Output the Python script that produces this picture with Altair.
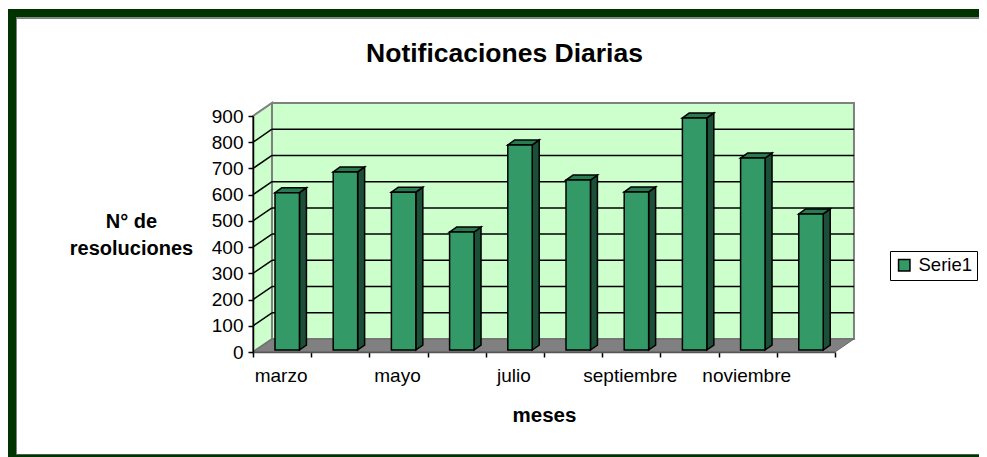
import altair as alt
import pandas as pd

months = ["marzo", "abril", "mayo", "junio", "julio", "agosto",
          "septiembre", "octubre", "noviembre", "diciembre"]
values = [600, 679, 602, 450, 782, 648, 603, 885, 732, 519]
y_ticks = [0, 100, 200, 300, 400, 500, 600, 700, 800, 900]
x_labels = ["marzo", "mayo", "julio", "septiembre", "noviembre"]
series_name = "Serie1"

# 3-D depth, in data units of the two scales
WALL_DX, WALL_DY = 0.326, 49.6
BAR_DX, BAR_DY = 0.12, 19.0
BAR_X, BAR_W, BAR_BASE = 0.378, 0.42, 7.6

W, H = 582, 236
LEFT, TOP = 245, 108
FONT = "Liberation Sans"
GREY = "#808080"
WALL = "#CCFFCC"
BAR = "#339966"
BORDER = "#003300"

X = alt.Scale(domain=[0, len(months)], nice=False, zero=False)
Y = alt.Scale(domain=[0, 900], nice=False, zero=False)
X_AX = alt.Axis(values=list(range(len(months) + 1)), labels=False, tickSize=5, tickColor="black",
                tickWidth=1.5, domainColor="#555555", domainWidth=1.5, grid=False, title="meses",
                titleFont=FONT, titleFontSize=20.5, titleFontWeight="bold", titleColor="black",
                titleX=291, titleY=63, titleBaseline="middle", zindex=1)
Y_AX = alt.Axis(values=y_ticks, title=["N° de", "resoluciones"], titleFont=FONT, titleFontSize=20,
                titleFontWeight="bold", titleColor="black", titleAngle=0, titleAlign="center",
                titleBaseline="middle", titleX=-122, titleY=105, titleLineHeight=27,
                labelFont=FONT, labelFontSize=19, labelColor="black", labelPadding=5,
                tickSize=5, tickColor="black", tickWidth=1.5, domainColor="black", domainWidth=1.5,
                grid=False, zindex=1)


def xq(f):
    return alt.X(f, scale=X, axis=X_AX)


def yq(f):
    return alt.Y(f, scale=Y, axis=Y_AX)


front, side, top = [], [], []
for i, (m, v) in enumerate(zip(months, values)):
    x0 = i + BAR_X
    x1 = x0 + BAR_W
    t = v + BAR_BASE
    front.append(dict(month=m, x0=x0, x1=x1, b=BAR_BASE, t=t, s=series_name))
    side += [dict(month=m, x=x1, b=BAR_BASE, t=t),
             dict(month=m, x=x1 + BAR_DX, b=BAR_BASE + BAR_DY, t=t + BAR_DY)]
    top += [dict(month=m, y=t, a=x0, c=x1),
            dict(month=m, y=t + BAR_DY, a=x0 + BAR_DX, c=x1 + BAR_DX)]
front, side, top = map(pd.DataFrame, (front, side, top))

back = alt.Chart(pd.DataFrame({"x": [WALL_DX, 10 + WALL_DX], "b": [WALL_DY] * 2, "t": [900 + WALL_DY] * 2})).mark_area(
    color=WALL, stroke=GREY, strokeWidth=2
).encode(x=xq("x:Q"), y=alt.Y("b:Q", scale=Y, axis=Y_AX, stack=None), y2="t:Q")

left = alt.Chart(pd.DataFrame({"x": [0, WALL_DX], "b": [0, WALL_DY], "t": [900, 900 + WALL_DY]})).mark_area(
    color=WALL, stroke=GREY, strokeWidth=2
).encode(x=xq("x:Q"), y=alt.Y("b:Q", scale=Y, axis=Y_AX, stack=None), y2="t:Q")

floor = alt.Chart(pd.DataFrame({"y": [0, WALL_DY], "a": [0, WALL_DX], "c": [10, 10 + WALL_DX]})).mark_area(
    orient="horizontal", color=GREY, stroke="#6a6a6a", strokeWidth=1
).encode(y=yq("y:Q"), x=alt.X("a:Q", scale=X, axis=X_AX, stack=None), x2="c:Q")

gdf = pd.DataFrame({"v": y_ticks[1:-1]})
gdf["vb"] = gdf.v + WALL_DY
gdf["x0"], gdf["x1"], gdf["x2"] = 0.0, WALL_DX, 10 + WALL_DX
grid_back = alt.Chart(gdf).mark_rule(color="black", strokeWidth=1.5).encode(
    x=xq("x1:Q"), x2="x2:Q", y=yq("vb:Q"))
grid_side = alt.Chart(gdf).mark_rule(color="black", strokeWidth=1.5).encode(
    x=xq("x0:Q"), x2="x1:Q", y=yq("v:Q"), y2="vb:Q")

sides = alt.Chart(side).mark_area(color="#1C4F37", stroke="black", strokeWidth=1.5).encode(
    x=xq("x:Q"), y=alt.Y("b:Q", scale=Y, axis=Y_AX, stack=None), y2="t:Q", detail="month:N")
tops = alt.Chart(top).mark_area(orient="horizontal", color="#287A52", stroke="black", strokeWidth=1.5).encode(
    y=yq("y:Q"), x=alt.X("a:Q", scale=X, axis=X_AX, stack=None), x2="c:Q", detail="month:N")
fronts = alt.Chart(front).mark_rect(stroke="black", strokeWidth=1.5).encode(
    x=xq("x0:Q"), x2="x1:Q", y=yq("b:Q"), y2="t:Q",
    color=alt.Color("s:N", scale=alt.Scale(range=[BAR]), legend=alt.Legend(
        orient="none", legendX=637, legendY=135, title=None, fillColor="white",
        strokeColor="black", padding=5, symbolType="square", symbolSize=130,
        symbolStrokeColor="black", symbolStrokeWidth=1.5, labelFont=FONT,
        labelFontSize=18.5, labelColor="black", labelOffset=5)),
)

lab_df = pd.DataFrame({"x": [months.index(m) + 0.5 for m in x_labels], "m": x_labels})
labels = alt.Chart(lab_df).mark_text(font=FONT, fontSize=19, color="black", baseline="middle", dx=-1).encode(
    x=xq("x:Q"), y=alt.value(H + 24), text="m:N")

# Frame of the chart area, page pixels relative to the plot origin
frame_rows = [(-LEFT, 726, -107, -98.5, BORDER), (-LEFT, -237, -107, 341, BORDER),
              (-LEFT, 726, 338.3, 341, BORDER), (-237, 726, -98.5, -97, "#808080"),
              (-237, -236, -98.5, 338.3, "#808080")]
frames = [alt.Chart(pd.DataFrame({"k": [n]})).mark_rect(color=c).encode(
    x=alt.value(a), x2=alt.value(b), y=alt.value(cc), y2=alt.value(d))
    for n, (a, b, cc, d, c) in enumerate(frame_rows)]

chart = alt.layer(
    back, left, floor, grid_back, grid_side, sides, tops, fronts, labels, *frames
).properties(
    width=W, height=H,
    title=alt.TitleParams("Notificaciones Diarias", font=FONT, fontSize=26.5, fontWeight="bold",
                          color="black", anchor="middle", frame="group", dx=-39.5, dy=85, offset=0,
                          baseline="bottom"),
    autosize=alt.AutoSizeParams(type="none"),
    padding={"left": LEFT, "top": TOP, "right": 144, "bottom": 105},
).configure_view(stroke=None).configure(background="white")

chart.save("out.html", embed_options={"renderer": "svg", "actions": False})
